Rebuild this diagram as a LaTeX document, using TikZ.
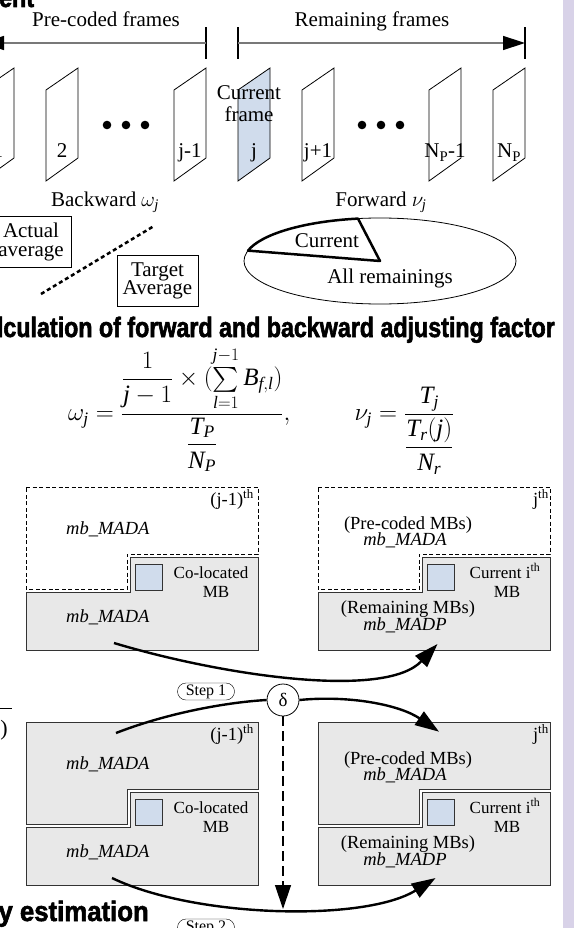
\documentclass[tikz,border=0pt]{standalone}
\usepackage{fix-cm}
\usepackage{amsmath}
\usepackage{fontspec}
\setmainfont{Liberation Serif}
\newfontfamily\headfont[FakeStretch=0.83,FakeBold=2]{Liberation Sans}
\newfontfamily\headwidefont[FakeStretch=0.92,FakeBold=2]{Liberation Sans}
\newcommand{\mv}[1]{\mathit{#1}}
\usetikzlibrary{arrows.meta,shapes.geometric}
\definecolor{mbblue}{RGB}{208,220,236}
\definecolor{boxgray}{RGB}{232,232,232}
\definecolor{sidepurple}{RGB}{216,210,232}
\definecolor{axisgray}{RGB}{120,120,120}
\tikzset{
    frame shape/.style={draw,line width=0.8pt},
    main text/.style={font=\fontsize{21}{24}\selectfont,inner sep=0pt},
    box text/.style={font=\fontsize{18.5}{20}\selectfont,inner sep=0pt},
    small text/.style={font=\fontsize{17}{19}\selectfont,inner sep=0pt},
    head text/.style={font=\headfont\bfseries\fontsize{28}{30}\selectfont,inner sep=0pt},
    avg box/.style={
        draw,line width=0.7pt,align=center,
        inner xsep=5pt,inner ysep=7pt,minimum width=81pt,
        font=\fontsize{21}{18.5}\selectfont
    },
    pre region/.style={draw,dash pattern=on 4pt off 2.5pt,line width=0.8pt},
    mb region/.style={draw=black!80,fill=boxgray,line width=0.9pt},
    mb square/.style={draw=black!80,fill=mbblue,line width=0.8pt,minimum size=26.5pt,inner sep=0pt},
    step tag/.style={
        draw,rounded corners=8.5pt,
        minimum width=57pt,minimum height=17pt,inner sep=1pt,
        font=\fontsize{16}{18}\selectfont
    },
    flow/.style={line width=2.4pt,->},
    >={Triangle[length=24pt,width=16pt]}
}
\begin{document}
\begin{tikzpicture}[x=1pt,y=-1pt]
\fill[white] (0,0) rectangle (574,928);
\useasboundingbox (0,0) rectangle (574,928);
\clip (0,0) rectangle (574,928);
\fill[sidepurple] (563,0) rectangle (574,928);
\node[head text,anchor=base west] (head0) at (-1,7) {ent};
% frame sequence
\node[main text,anchor=base] (pre) at (106,27) {Pre-coded frames};
\node[main text,anchor=base] (rem) at (372,27) {Remaining frames};
\coordinate (pre_l) at (-18,43);
\coordinate (pre_r) at (206,43);
\coordinate (rem_l) at (238,43);
\coordinate (rem_r) at (525,43);
\foreach \c in {pre_l,pre_r,rem_l,rem_r}
    \draw[line width=1.5pt] ([yshift=-16pt]\c) -- ([yshift=16pt]\c);
\draw[axisgray,line width=1.4pt,-{Triangle[length=22pt,width=14pt,color=black]}] (pre_r) -- (pre_l);
\draw[axisgray,line width=1.4pt,-{Triangle[length=22pt,width=14pt,color=black]}] (rem_l) -- (rem_r);
\foreach \i/\x/\name in {1/-18/1,2/46/2,3/174/j-1,4/238/j,5/302/j+1,6/429/N\textsubscript{P}-1,7/493/N\textsubscript{P}}{
    \ifnum\i=4 \def\fc{mbblue}\else\def\fc{white}\fi
    \filldraw[frame shape,fill=\fc] (\x,90) -- (\x+32,68) -- (\x+32,158) -- (\x,181) -- cycle;
    \node[main text,anchor=base] (fr_\i) at (\x+16,158) {\name};
}
\foreach \cx in {126,381}
    \foreach \k in {-1,0,1}
        \fill (\cx+19*\k,125) circle[radius=4.3pt];
\node[main text,anchor=base] (cur_a) at (249,100) {Current};
\node[main text,anchor=base] (cur_b) at (249,122) {frame};
\node[main text,anchor=base] (bw) at (105,206) {Backward $\omega_{\mv{j}}$};
\node[main text,anchor=base] (fw) at (381,206) {Forward $\nu_{\mv{j}}$};
% averages
\node[avg box] (actual) at (31,242) {Actual\\average};
\node[avg box] (target) at (157.5,281) {Target\\Average};
\coordinate (trend_a) at (41,294);
\coordinate (trend_b) at (154,226);
\draw[line width=2.5pt,dash pattern=on 4pt off 3pt] (trend_a) -- (trend_b);
\node[draw,ellipse,line width=0.8pt,minimum width=272pt,minimum height=86pt,inner sep=0pt] (all) at (380,261) {};
\draw[line width=2.5pt,line join=round] (all.center) -- ++(-22,-42.4)
    arc[start angle=99.3,end angle=166,x radius=136pt,y radius=43pt] -- cycle;
\node[main text,anchor=base] (cur_part) at (327,247) {Current};
\node[main text,anchor=base] (all_txt) at (390,283) {All remainings};
\node[head text,anchor=base east] (head1) at (555,337) {lculation of forward and backward adjusting factor};
\node[anchor=base west,inner sep=0pt,font=\fontsize{25}{29}\selectfont] (eq) at (68,420.5)
    {$\displaystyle \omega_{\mv{j}}=\frac{\displaystyle\frac{1}{\mv{j}-1}\times(\textstyle\sum\limits_{\mv{l}=1}^{\mv{j}-1}\mv{B}_{\mv{f},\mv{l}})}{\displaystyle\frac{\mv{T}_{\mv{P}}}{\mv{N}_{\mv{P}}}},\hspace{60pt}\nu_{\mv{j}}=\frac{\mv{T}_{\mv{j}}}{\displaystyle\frac{\mv{T}_{\mv{r}}(\mv{j})}{\mv{N}_{\mv{r}}}}$};
% macroblock maps
\foreach \dy/\reg in {0/pre region,235/mb region}{
\begin{scope}[shift={(0,\dy)}]
    \foreach \x in {0,292}{
        \draw[\reg] (26+\x,487) -- (258+\x,487) -- (258+\x,554) -- (127+\x,554) -- (127+\x,589) -- (26+\x,589) -- cycle;
        \draw[mb region] (130.5+\x,557) -- (258+\x,557) -- (258+\x,650) -- (26+\x,650) -- (26+\x,592) -- (130.5+\x,592) -- cycle;
        \node[mb square] (sq_\x_\dy) at (149+\x,577.5) {};
    }
    \node[box text,anchor=base east] (prev_\dy) at (254,505) {(j-1)\textsuperscript{th}};
    \node[box text,anchor=base west] (pmada_\dy) at (66,534) {\textit{mb\_MADA}};
    \node[small text,anchor=base] (coloc_\dy) at (211,578) {Co-located};
    \node[small text,anchor=base] (comb_\dy) at (216,597) {MB};
    \node[box text,anchor=base west] (qmada_\dy) at (66,622) {\textit{mb\_MADA}};
    \node[box text,anchor=base east] (this_\dy) at (549,505) {j\textsuperscript{th}};
    \node[box text,anchor=base] (pcod_\dy) at (408,529) {(Pre-coded MBs)};
    \node[box text,anchor=base] (cmada_\dy) at (405,545) {\textit{mb\_MADA}};
    \node[small text,anchor=base] (curmb_\dy) at (505,578) {Current i\textsuperscript{th}};
    \node[small text,anchor=base] (cumb_\dy) at (507,597) {MB};
    \node[box text,anchor=base] (rmbs_\dy) at (408,613) {(Remaining MBs)};
    \node[box text,anchor=base] (madp_\dy) at (405,630) {\textit{mb\_MADP}};
\end{scope}
}
% steps
\node[inner sep=0pt,anchor=east,font=\fontsize{22}{24}\selectfont] (frag) at (8,730) {)};
\draw[line width=0.8pt] (0,708) -- (12,708);
\coordinate (s1_from) at (114,643);
\coordinate (s1_to) at (437.5,644);
\draw[flow] (s1_from) .. controls (220,675) and (385,700) .. (s1_to);
\node[step tag] (step1) at (206,691.5) {Step 1};
\node[circle,draw,fill=white,line width=0.8pt,minimum size=32pt,inner sep=0pt,font=\fontsize{19}{21}\selectfont] (delta) at (283,700) {δ};
\coordinate (s2_from) at (116,733);
\coordinate (s2_to) at (439,731.7);
\draw[line width=2.4pt] (s2_from) .. controls (170,712) and (230,702) .. (delta.west);
\draw[flow] (delta.east) .. controls (350,695) and (400,705) .. (s2_to);
\coordinate (dash_end) at (283,909);
\draw[->,line width=1.3pt,dash pattern=on 10pt off 5pt] (delta.south) -- (dash_end);
\coordinate (s3_from) at (112,878);
\coordinate (s3_to) at (435.6,878);
\draw[flow] (s3_from) .. controls (195,918) and (365,922) .. (s3_to);
\node[step tag] (step2) at (206,927.5) {Step 2};
\node[head text,font=\headwidefont\bfseries\fontsize{28}{30}\selectfont,anchor=base east] (head2) at (149,921) {y estimation};
\end{tikzpicture}
\end{document}
